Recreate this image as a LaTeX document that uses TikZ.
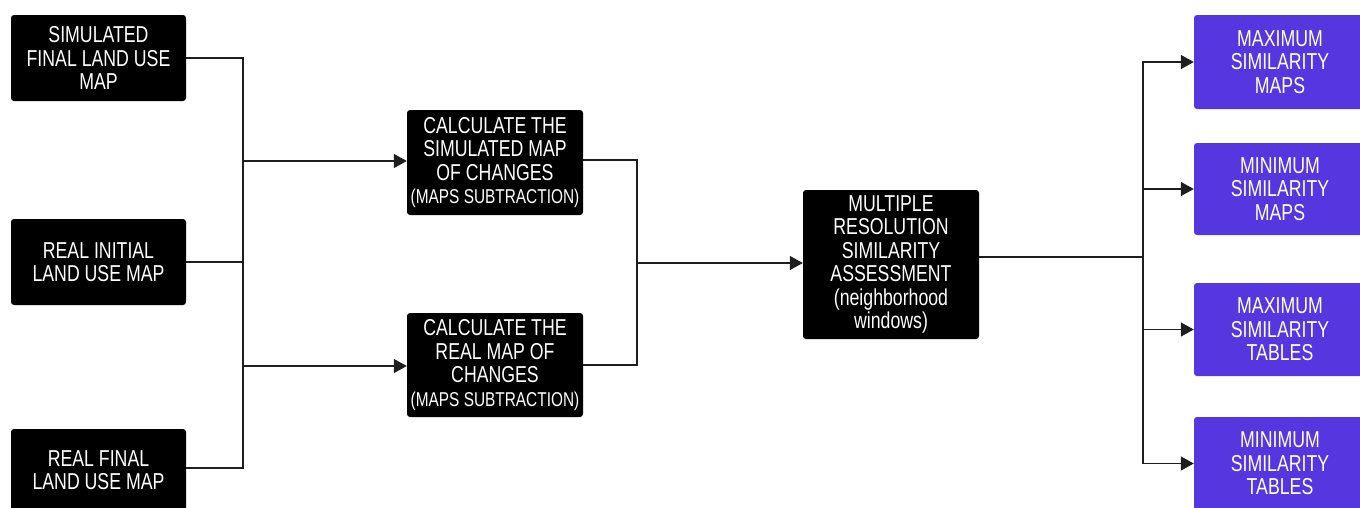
\documentclass[tikz,border=0pt]{standalone}
\usepackage{fontspec}
\setmainfont{Liberation Sans}[FakeStretch=0.77]
\usetikzlibrary{arrows.meta}
\definecolor{boxpurple}{RGB}{86,54,222}
\definecolor{linegray}{RGB}{30,30,30}
\begin{document}
\begin{tikzpicture}[x=1pt,y=-1pt,
  blackbox/.style={fill=black, text=white, rounded corners=3pt, align=center, inner sep=0pt,
    font=\fontsize{23}{23.4}\selectfont},
  purplebox/.style={fill=boxpurple, text=white, rounded corners=3pt, align=center, inner sep=0pt,
    font=\fontsize{23}{23.4}\selectfont},
  conn/.style={draw=linegray, line width=1.3pt},
  arr/.style={conn, -{Triangle[length=13pt,width=14pt]}}
]
\useasboundingbox (0,0) rectangle (1360,507);
% left inputs
\node[blackbox, minimum width=175pt, minimum height=86pt] (L1) at (98.5,58) {SIMULATED\\FINAL LAND USE\\MAP};
\node[blackbox, minimum width=175pt, minimum height=86pt] (L2) at (98.5,262) {REAL INITIAL\\LAND USE MAP};
\node[blackbox, minimum width=175pt, minimum height=82pt] (L3) at (98.5,470) {REAL FINAL\\LAND USE MAP};
% middle
\node[blackbox, minimum width=176pt, minimum height=105pt] (M1) at (495,162.5) {CALCULATE THE\\SIMULATED MAP\\OF CHANGES\\{\fontsize{20}{20}\selectfont (MAPS SUBTRACTION)}};
\node[blackbox, minimum width=176pt, minimum height=104pt] (M2) at (495,365) {CALCULATE THE\\REAL MAP OF\\CHANGES\\{\fontsize{20}{20}\selectfont (MAPS SUBTRACTION)}};
\node[blackbox, minimum width=176pt, minimum height=149pt] (MR) at (891,264.5) {MULTIPLE\\RESOLUTION\\SIMILARITY\\ASSESSMENT\\(neighborhood\\windows)};
% outputs
\node[purplebox, minimum width=172pt, minimum height=94pt] (P1) at (1280,62) {MAXIMUM\\SIMILARITY\\MAPS};
\node[purplebox, minimum width=172pt, minimum height=92pt] (P2) at (1280,189) {MINIMUM\\SIMILARITY\\MAPS};
\node[purplebox, minimum width=172pt, minimum height=93pt] (P3) at (1280,329.5) {MAXIMUM\\SIMILARITY\\TABLES};
\node[purplebox, minimum width=172pt, minimum height=93pt] (P4) at (1280,463.5) {MINIMUM\\SIMILARITY\\TABLES};
% junctions
\coordinate (ja) at (243,161);
\coordinate (jb) at (243,366);
\coordinate (jc) at (637,263);
\coordinate (jd) at (1143,257);
% left connectors
\draw[conn] (L1.east) -| (ja) -- (jb);
\draw[conn] (L3.east |- 0,468) -| (jb);
\draw[conn] (L2.east) -- (L2.east -| ja);
\draw[arr] (ja) -- (ja -| M1.west);
\draw[arr] (jb) -- (jb -| M2.west);
% middle connectors
\draw[conn] (M1.east |- 0,160) -| (jc);
\draw[conn] (M2.east) -| (jc);
\draw[arr] (jc) -- (jc -| MR.west);
% right connectors
\draw[conn] (jd -| MR.east) -- (jd);
\draw[arr] (jd) |- (P1.west);
\draw[arr] (jd) |- (P2.west);
\draw[arr] (jd) |- (P3.west);
\draw[arr] (jd) |- (P4.west);
\end{tikzpicture}
\end{document}
